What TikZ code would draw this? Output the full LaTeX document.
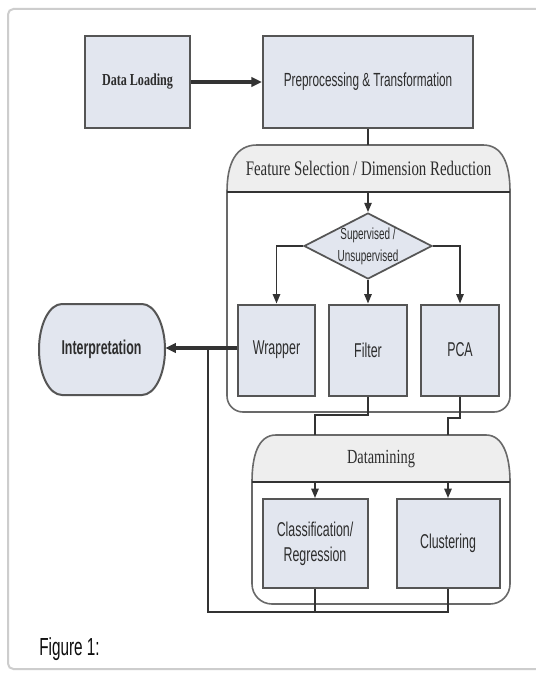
\documentclass[tikz,border=0pt]{standalone}
\usepackage{fontspec}
\usetikzlibrary{arrows.meta,shapes.geometric}
\newfontfamily\serifn[FakeStretch=0.72]{Liberation Serif}
\newfontfamily\sansn[FakeStretch=0.62]{Liberation Sans}
\definecolor{boxfill}{RGB}{226,230,239}
\definecolor{boxline}{RGB}{85,85,85}
\definecolor{txt}{RGB}{45,45,45}
\definecolor{hdrfill}{RGB}{238,238,238}
\definecolor{framecol}{RGB}{205,205,205}
\definecolor{grpline}{RGB}{105,105,105}
\begin{document}
\begin{tikzpicture}[x=0.75pt,y=-0.75pt,
  box/.style={draw=boxline, fill=boxfill, line width=1.5pt, inner sep=0pt, text=txt, align=center},
  sanslab/.style={font=\sansn\fontsize{15}{18.75}\selectfont},
  grp/.style={draw=grpline, line width=1.2pt},
  conn/.style={draw=black!80, line width=1.2pt},
  arr/.style={conn, -{Triangle[length=7pt,width=5.5pt]}},
  thickarr/.style={draw=black!80, line width=2.4pt, -{Triangle[length=8pt,width=7pt]}},
  dia/.style={diamond, draw=boxline, fill=boxfill, line width=1.3pt, inner sep=0pt, minimum width=96pt, minimum height=49.5pt}
]
\useasboundingbox (0,0) rectangle (535,673);
\fill[white] (0,0) rectangle (535,673);
% outer frame
\draw[framecol, line width=1.5pt, rounded corners=4pt] (560,9) -- (8,9) -- (8,669) -- (560,669);

% Feature selection group
\draw[grp, fill=white, rounded corners=12pt] (227,192) -- (227,412) -- (510,412) -- (510,192);
\draw[grp, fill=hdrfill] (227,192) .. controls (227,163) and (236,145) .. (257,145) -- (483,145) .. controls (502,145) and (510,163) .. (510,192) -- cycle;
\draw[black!80, line width=1.8pt] (227,192) -- (510,192);
\node[text=txt, font=\serifn\fontsize{15.5}{18}\selectfont] (fshdr) at (368.5,168) {Feature Selection / Dimension Reduction};
\coordinate (fsTop) at (368,145);
\coordinate (fsHb) at (368,192);

% Datamining group
\draw[grp, fill=white, rounded corners=15pt] (252,482) -- (252,604) -- (510,604) -- (510,482);
\draw[grp, fill=hdrfill] (252,482) .. controls (252,456) and (258,435) .. (276,435) -- (486,435) .. controls (503,435) and (510,456) .. (510,482) -- cycle;
\draw[black!80, line width=1.8pt] (252,482) -- (510,482);
\node[text=txt, font=\serifn\fontsize{15}{18}\selectfont] (dmhdr) at (381,459) {Datamining};
\coordinate (dmA) at (315,435);
\coordinate (dmB) at (448,435);
\coordinate (dmHa) at (315,482);
\coordinate (dmHb) at (448,482);

% top boxes
\node[box, minimum width=78.75pt, minimum height=69pt, font=\serifn\bfseries\fontsize{12.6}{14}\selectfont] (dl) at (137.5,82) {Data Loading};
\node[box, minimum width=157.5pt, minimum height=69pt, font=\sansn\fontsize{14.25}{17}\selectfont] (pt) at (368,82) {Preprocessing \& Transformation};

% diamond
\node[dia, label={[text=txt, align=center, font=\sansn\fontsize{12}{16.5}\selectfont]center:Supervised /\\Unsupervised}] (sup) at (368,246) {};

% method boxes
\node[box, sanslab, minimum width=57.75pt, minimum height=68.25pt] (wr) at (276.5,350) {Wrapper};
\node[box, sanslab, minimum width=58.5pt, minimum height=68.25pt] (fi) at (368,350) {Filter};
\node[box, sanslab, minimum width=58.5pt, minimum height=68.25pt] (pca) at (460,350) {PCA};

% interpretation (terminator with elliptic ends)
\draw[draw=boxline, fill=boxfill, line width=1.5pt] (62,304) -- (142,304) arc[start angle=-90, end angle=90, x radius=23, y radius=45.5] -- (62,395) arc[start angle=90, end angle=270, x radius=23, y radius=45.5] -- cycle;
\node[inner sep=0pt, minimum width=95.25pt, minimum height=68.25pt, text=txt, font=\sansn\bfseries\fontsize{15}{18}\selectfont] (int) at (101.5,349.5) {Interpretation};

% datamining boxes
\node[box, sanslab, minimum width=78.75pt, minimum height=66.75pt] (cl) at (315,543.5) {Classification/\\Regression};
\node[box, sanslab, minimum width=77.25pt, minimum height=66.75pt] (cu) at (448,543.5) {Clustering};

% caption
\node[anchor=base west, inner sep=0pt, text=black!95, font=\sansn\fontsize{18.5}{20}\selectfont] (cap) at (39,655) {Figure 1:};

% connectors
\draw[thickarr] (dl.east) -- (pt.west);
\draw[conn] (pt.south) -- (fsTop);
\draw[arr] (fsHb) -- (sup.north);
\draw[arr] (sup.west) -| (wr.north);
\draw[arr] (sup.south) -- (fi.north);
\draw[arr] (sup.east) -| (pca.north);
\draw[thickarr] (wr.west |- 0,348) -- (int.east |- 0,348);
\coordinate (j1) at (208,348);
\coordinate (j2) at (208,612);
\draw[conn] (fi.south) -- (368,415) -| (dmA);
\draw[conn] (pca.south) -- (460,418) -| (dmB);
\draw[arr] (dmHa) -- (cl.north);
\draw[arr] (dmHb) -- (cu.north);
\draw[conn, line width=1.8pt] (j1) -- (j2) -| (cu.south);
\draw[conn, line width=1.8pt] (cl.south) -- (cl.south |- j2);
\end{tikzpicture}
\end{document}
